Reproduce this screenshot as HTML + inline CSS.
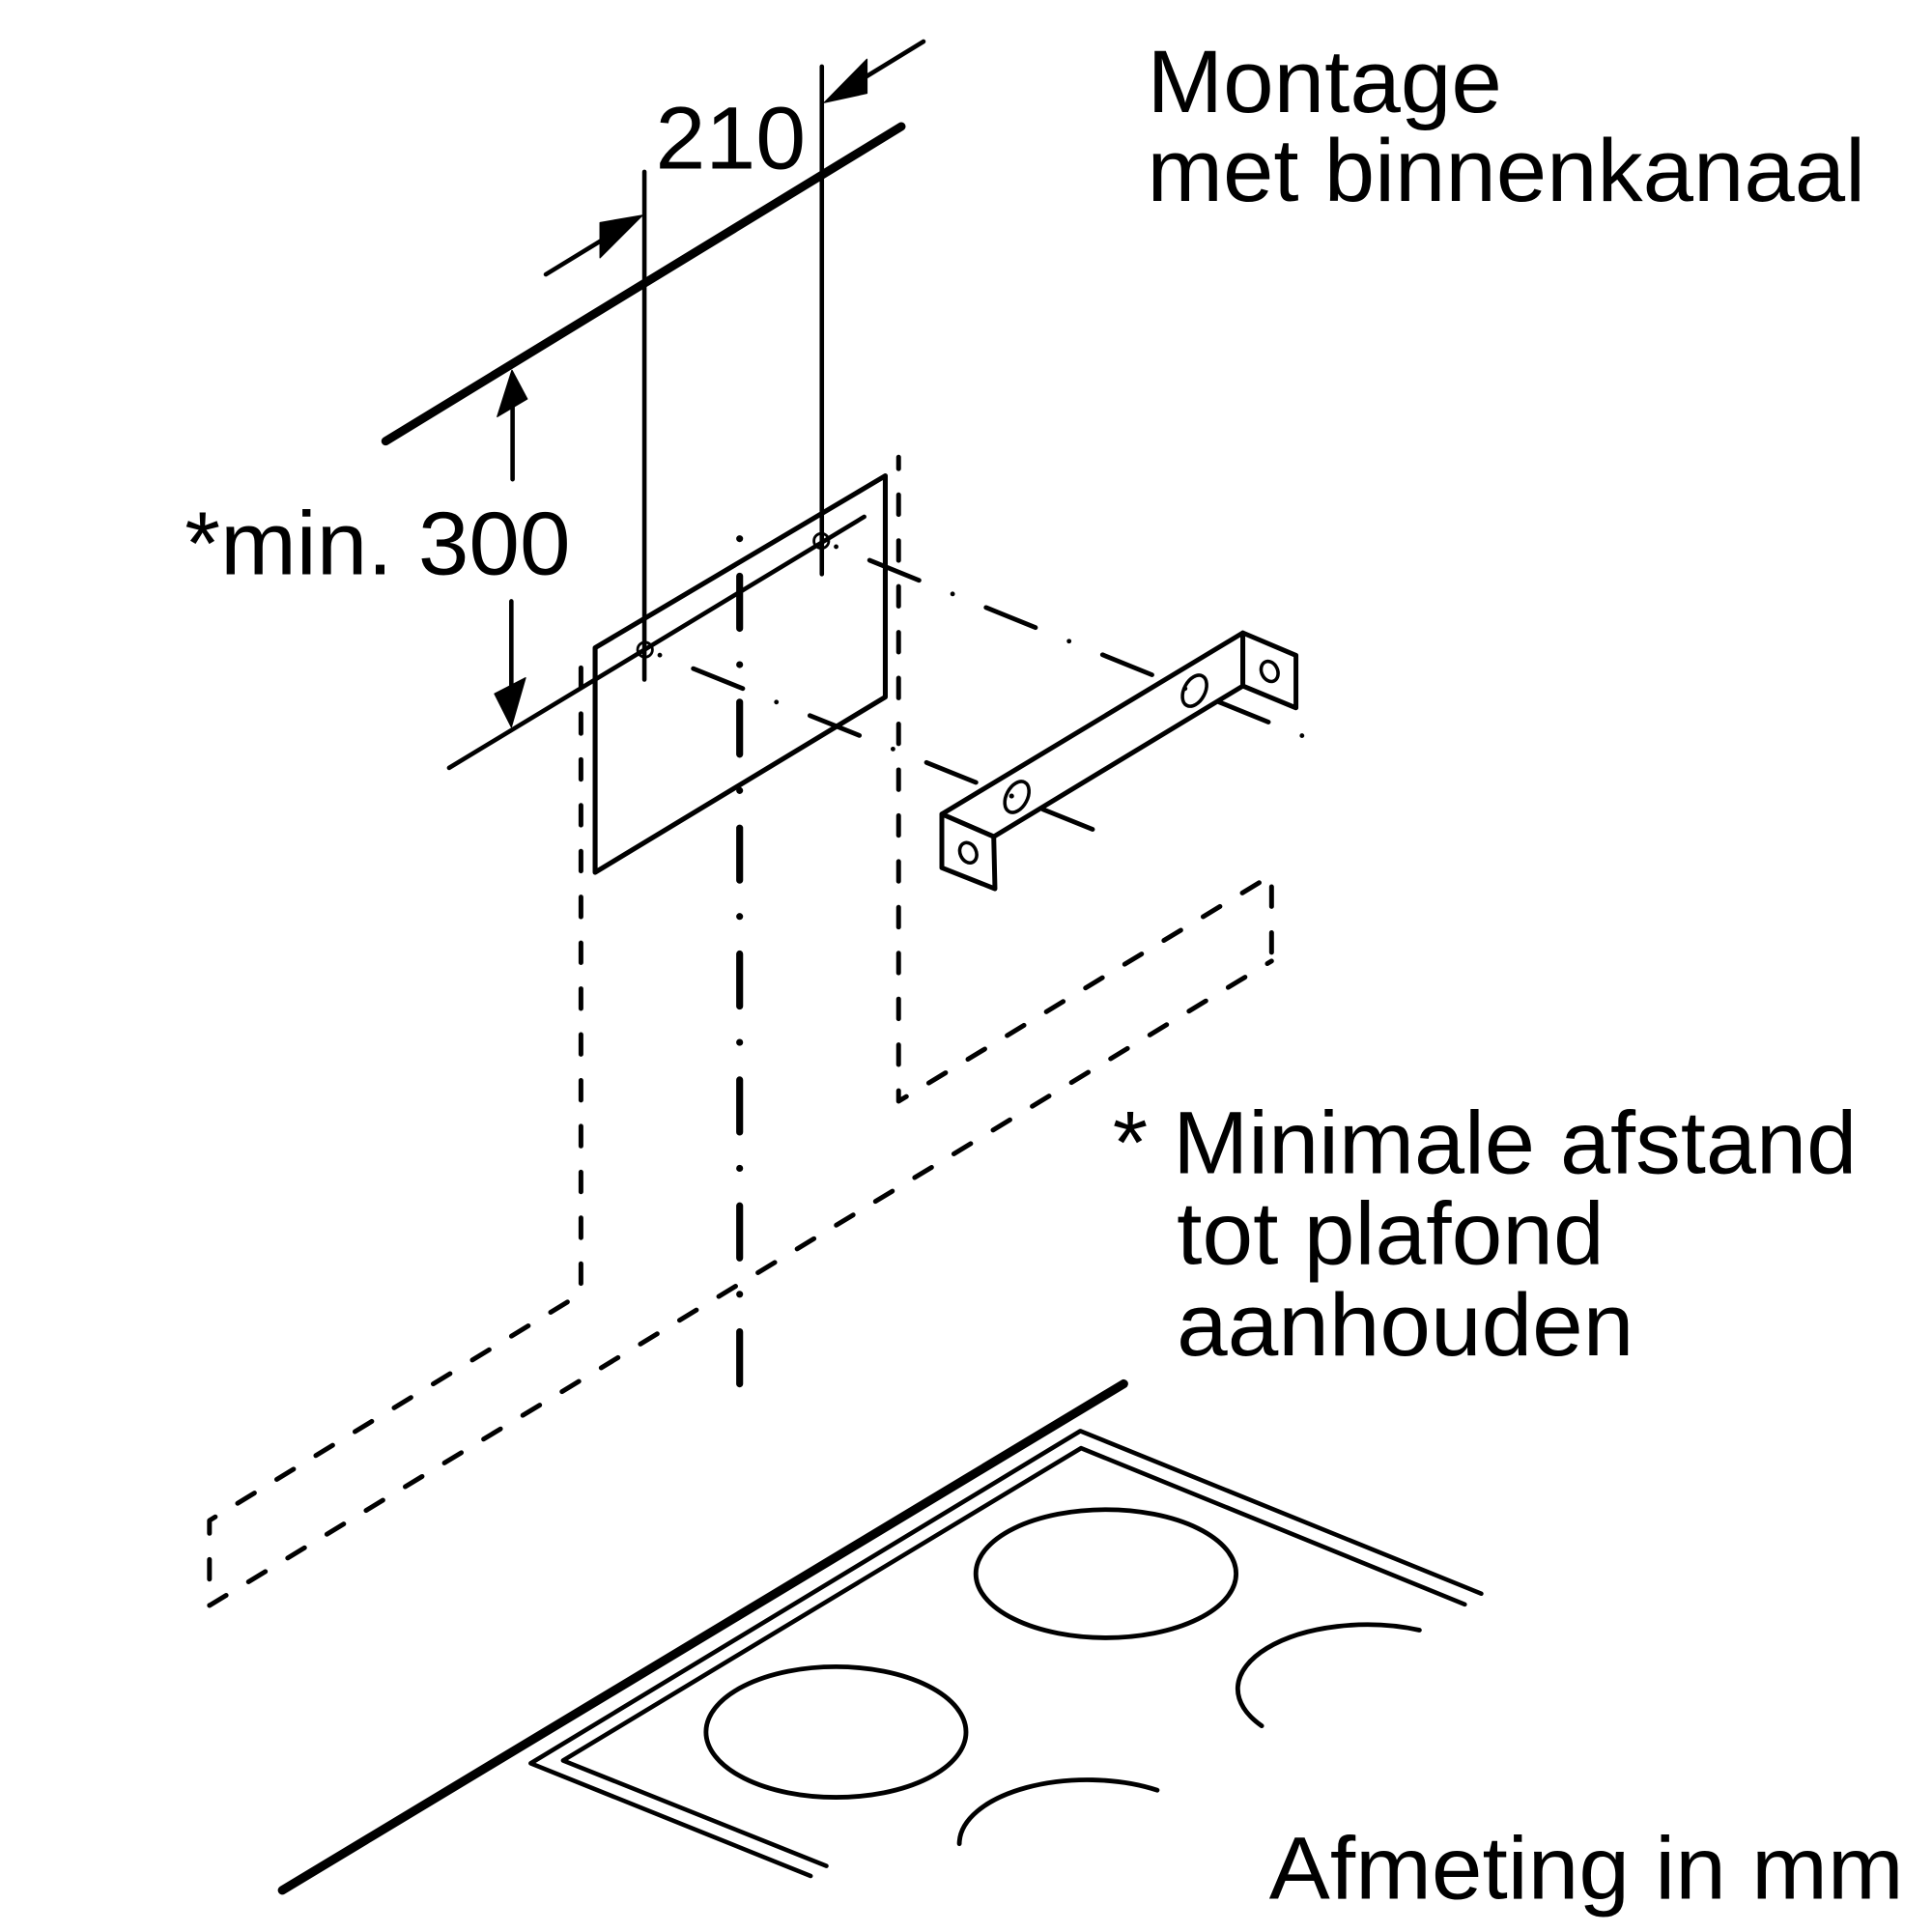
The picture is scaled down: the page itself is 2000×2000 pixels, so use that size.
<!DOCTYPE html>
<html>
<head>
<meta charset="utf-8">
<style>
  html, body { margin:0; padding:0; background:#fff; }
  svg { display:block; }
  text { font-family: "Liberation Sans", Arial, sans-serif; fill:#000; }
</style>
</head>
<body>
<svg width="2000" height="2000" viewBox="0 0 1568 1568" xmlns="http://www.w3.org/2000/svg">
  <rect x="0" y="0" width="1568" height="1568" fill="#fff"/>

  <!-- ===== Texts ===== -->
  <text x="931" y="91" font-size="72" textLength="288" lengthAdjust="spacingAndGlyphs">Montage</text>
  <text x="931" y="163" font-size="72" textLength="583" lengthAdjust="spacingAndGlyphs">met binnenkanaal</text>
  <text x="532" y="137" font-size="72" textLength="122" lengthAdjust="spacingAndGlyphs">210</text>
  <text x="150" y="466" font-size="73" textLength="313" lengthAdjust="spacingAndGlyphs">*min. 300</text>
  <text x="903" y="952" font-size="72" textLength="604" lengthAdjust="spacingAndGlyphs">* Minimale afstand</text>
  <text x="955" y="1026" font-size="72" textLength="347" lengthAdjust="spacingAndGlyphs">tot plafond</text>
  <text x="955" y="1100" font-size="72" textLength="371" lengthAdjust="spacingAndGlyphs">aanhouden</text>
  <text x="1030" y="1541" font-size="72" textLength="515" lengthAdjust="spacingAndGlyphs">Afmeting in mm</text>

  <g stroke="#000" fill="none" stroke-linecap="round" stroke-linejoin="round">
    <!-- ceiling thick line -->
    <line x1="313" y1="358" x2="731.5" y2="102.7" stroke-width="7"/>

    <!-- vertical extension lines -->
    <line x1="523" y1="139.5" x2="523" y2="551.5" stroke-width="3.6"/>
    <line x1="667" y1="54" x2="667" y2="466" stroke-width="3.6"/>

    <!-- 210 dimension arrows -->
    <line x1="443" y1="222.7" x2="490" y2="194" stroke-width="3.6"/>
    <line x1="749.5" y1="33.7" x2="700" y2="64" stroke-width="3.6"/>

    <!-- min 300 vertical arrows -->
    <line x1="416" y1="389" x2="416" y2="328" stroke-width="3.6"/>
    <line x1="415" y1="488" x2="415" y2="560" stroke-width="3.6"/>

    <!-- mounting line -->
    <line x1="364.5" y1="623.2" x2="701.4" y2="419.4" stroke-width="3.6"/>

    <!-- plate -->
    <polygon points="483,525.7 718.5,386.2 718.5,565.7 483,708" stroke-width="4"/>

    <!-- holes on plate -->
    <circle cx="523.5" cy="527.3" r="6" stroke-width="2.2"/>
    <circle cx="666.6" cy="439" r="6" stroke-width="2.2"/>

    <!-- centerline (dash-dot, thick) -->
    <line x1="600.3" y1="437.2" x2="600.3" y2="1123.2" stroke-width="5.6" stroke-dasharray="0 30.4 42.4 29.4"/>

    <!-- dash-dot lines from holes -->
    <line x1="535.5" y1="531.7" x2="886.7" y2="673.1" stroke-width="3.8" stroke-dasharray="0 29.3 43.3 29.4"/>
    <line x1="678.6" y1="443.7" x2="1057" y2="597.2" stroke-width="3.8" stroke-dasharray="0 29.3 43.3 29.4"/>

    <!-- dashed hood outline -->
    <path d="M729.3 371 V893.8 L1032 710.3 V780" stroke-width="3.9" stroke-dasharray="16 21.2" stroke-dashoffset="6.6"/>
    <path d="M1032 780 L170 1303 V1234 L471.5 1050 V526" stroke-width="3.9" stroke-dasharray="16 21.2" stroke-dashoffset="12"/>

    <!-- cooktop -->
    <line x1="229.1" y1="1534.1" x2="912" y2="1123.1" stroke-width="7.2"/>
    <polyline points="657.9,1522.5 430.7,1431.1 876.8,1161.4 1202.2,1293.4" stroke-width="3.6"/>
    <polyline points="670.7,1514.4 457,1428.8 877.4,1175.3 1188.8,1302.1" stroke-width="3.6"/>
    <ellipse cx="897.6" cy="1277.2" rx="105.6" ry="52" stroke-width="3.8"/>
    <ellipse cx="678.5" cy="1405.7" rx="105.5" ry="53" stroke-width="3.8"/>
    <path d="M1152 1323 A105 52 0 0 0 1024 1400.7" stroke-width="3.8"/>
    <path d="M939.2 1452.9 A104 52 0 0 0 778.6 1496.4" stroke-width="3.8"/>
  </g>

  <!-- arrowheads -->
  <g fill="#000" stroke="#000" stroke-width="1" stroke-linejoin="round">
    <polygon points="521.5,174.7 487,180.7 487,209.2"/>
    <polygon points="669.1,83.2 703.6,48.1 703.6,75.7"/>
    <polygon points="415.5,300.5 403.6,338.2 427.9,323.8"/>
    <polygon points="415,590 401.4,563.1 426.5,550.1"/>
  </g>

  <!-- bracket (white filled to occlude lines behind) -->
  <g stroke="#000" fill="#fff" stroke-width="3.9" stroke-linejoin="round" stroke-linecap="round">
    <polygon points="764.4,660.7 1008.7,513.6 1008.7,556.7 806.5,679"/>
    <polygon points="764.4,660.7 806.5,679 807.5,721.3 764.4,704.3"/>
    <polygon points="1008.7,513.6 1051.8,531.9 1051.8,574.5 1008.7,556.7"/>
  </g>
  <g stroke="#000" fill="#fff" stroke-width="2.8">
    <ellipse cx="785.8" cy="692.1" rx="6.5" ry="8.5" transform="rotate(-25 785.8 692.1)"/>
    <ellipse cx="1030.4" cy="544.9" rx="6.5" ry="8.5" transform="rotate(-25 1030.4 544.9)"/>
    <ellipse cx="825.3" cy="646.8" rx="8.5" ry="13.5" transform="rotate(28 825.3 646.8)"/>
    <ellipse cx="969.5" cy="560.6" rx="8.5" ry="13.5" transform="rotate(28 969.5 560.6)"/>
  </g>
  <g fill="#000">
    <circle cx="821" cy="646.1" r="2"/>
    <circle cx="961.7" cy="558.8" r="2"/>
  </g>
</svg>
</body>
</html>
